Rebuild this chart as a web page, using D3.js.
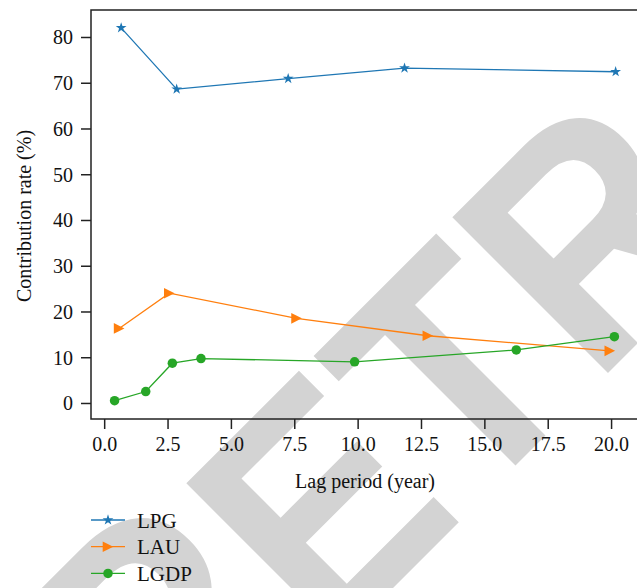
<!DOCTYPE html>
<html>
<head>
<meta charset="utf-8">
<script src="https://cdn.jsdelivr.net/npm/d3@7"></script>
<style>
  body { margin: 0; background: #fff; }
  svg { display: block; }
</style>
</head>
<body>
<svg id="chart" width="637" height="588"></svg>
<script>
// Values
const seriesNames = ["LPG", "LAU", "LGDP"];
const lpgX = [0.67, 2.86, 7.26, 11.85, 20.18];
const lpgY = [82.0, 68.6, 70.9, 73.2, 72.4];
const lauX = [0.59, 2.57, 7.59, 12.77, 19.95];
const lauY = [16.3, 24.0, 18.5, 14.7, 11.4];
const lgdpX = [0.41, 1.64, 2.69, 3.82, 9.88, 16.26, 20.13];
const lgdpY = [0.5, 2.5, 8.7, 9.7, 9.0, 11.6, 14.5];
const xTicks = [0, 2.5, 5, 7.5, 10, 12.5, 15, 17.5, 20];
const yTicks = [0, 10, 20, 30, 40, 50, 60, 70, 80];

const svg = d3.select("#chart");
const serif = "'Liberation Serif', 'Times New Roman', serif";

// plot area (right edge runs past the picture, as in the reference)
const plotLeft = 91, plotTop = 10, plotBottom = 419, plotRight = 642;

const x = d3.scaleLinear().domain([-0.52, 21.22]).range([plotLeft, plotRight]);
const y = d3.scaleLinear().domain([-3.5, 85.9]).range([plotBottom, plotTop]);

// grey "RETRACTED" stamp sits behind everything
const stamp = svg.append("text")
  .attr("transform", "translate(179,802) rotate(-45) scale(0.92,1)")
  .attr("font-family", "'Liberation Sans', Arial, sans-serif")
  .attr("font-weight", "bold")
  .attr("font-size", 320)
  .attr("fill", "#d3d3d3");
stamp.append("tspan").attr("font-size", 345).attr("dx", -21).attr("dy", -11).text("R");
stamp.append("tspan").attr("font-size", 320).attr("dx", 1).attr("dy", 11).text("ETRACTED");

// frame
svg.append("rect")
  .attr("x", plotLeft).attr("y", plotTop)
  .attr("width", plotRight - plotLeft).attr("height", plotBottom - plotTop)
  .attr("fill", "none")
  .attr("stroke", "#222")
  .attr("stroke-width", 1.5);

const xAxis = svg.append("g")
  .attr("transform", `translate(0,${plotBottom})`)
  .call(d3.axisBottom(x).tickValues(xTicks).tickFormat(d3.format(".1f")).tickSize(10).tickPadding(8));

const yAxis = svg.append("g")
  .attr("transform", `translate(${plotLeft},0)`)
  .call(d3.axisLeft(y).tickValues(yTicks).tickSize(10).tickPadding(8));

[xAxis, yAxis].forEach(g => {
  g.select(".domain").remove();
  g.selectAll(".tick line").attr("stroke", "#222").attr("stroke-width", 1.5);
  g.selectAll(".tick text")
    .attr("font-family", serif)
    .attr("font-size", 20)
    .attr("fill", "#111");
});
yAxis.selectAll(".tick text").attr("dy", "0.34em");

// axis titles
svg.append("text")
  .attr("x", 365).attr("y", 488)
  .attr("text-anchor", "middle")
  .attr("font-family", serif).attr("font-size", 20).attr("fill", "#111")
  .text("Lag period (year)");

svg.append("text")
  .attr("transform", "translate(24,216) rotate(-90)")
  .attr("text-anchor", "middle")
  .attr("dominant-baseline", "central")
  .attr("font-family", serif).attr("font-size", 20).attr("fill", "#111")
  .text("Contribution rate (%)");

// markers
const tri = 5.3;
const markers = {
  LPG: d3.symbol().type(d3.symbolStar).size(36)(),
  LAU: `M${tri},0L${-tri},${-tri}L${-tri},${tri}Z`,
  LGDP: d3.symbol().type(d3.symbolCircle).size(71)()
};
const colors = { LPG: "#1f77b4", LAU: "#ff7f0e", LGDP: "#27a627" };

const series = [
  { name: "LPG", xs: lpgX, ys: lpgY },
  { name: "LAU", xs: lauX, ys: lauY },
  { name: "LGDP", xs: lgdpX, ys: lgdpY }
];

const line = d3.line().x(d => x(d[0])).y(d => y(d[1]));

series.forEach(s => {
  const pts = s.xs.map((v, i) => [v, s.ys[i]]);
  svg.append("path")
    .datum(pts)
    .attr("d", line)
    .attr("fill", "none")
    .attr("stroke", colors[s.name])
    .attr("stroke-width", 1.3);

  svg.append("g")
    .selectAll("path")
    .data(pts)
    .join("path")
      .attr("d", markers[s.name])
      .attr("transform", d => `translate(${x(d[0])},${y(d[1])})`)
      .attr("fill", colors[s.name]);
});

// legend
const legend = svg.append("g").attr("transform", "translate(91,520)");
seriesNames.forEach((name, i) => {
  const row = legend.append("g").attr("transform", `translate(0,${i * 26.7})`);
  row.append("line")
    .attr("x1", 0).attr("x2", 34)
    .attr("stroke", colors[name]).attr("stroke-width", 1.3);
  row.append("path")
    .attr("d", markers[name])
    .attr("transform", "translate(17,0)")
    .attr("fill", colors[name]);
  row.append("text")
    .attr("x", 46).attr("y", 7.5)
    .attr("font-family", serif).attr("font-size", 21).attr("fill", "#111")
    .text(name);
});
</script>
</body>
</html>
